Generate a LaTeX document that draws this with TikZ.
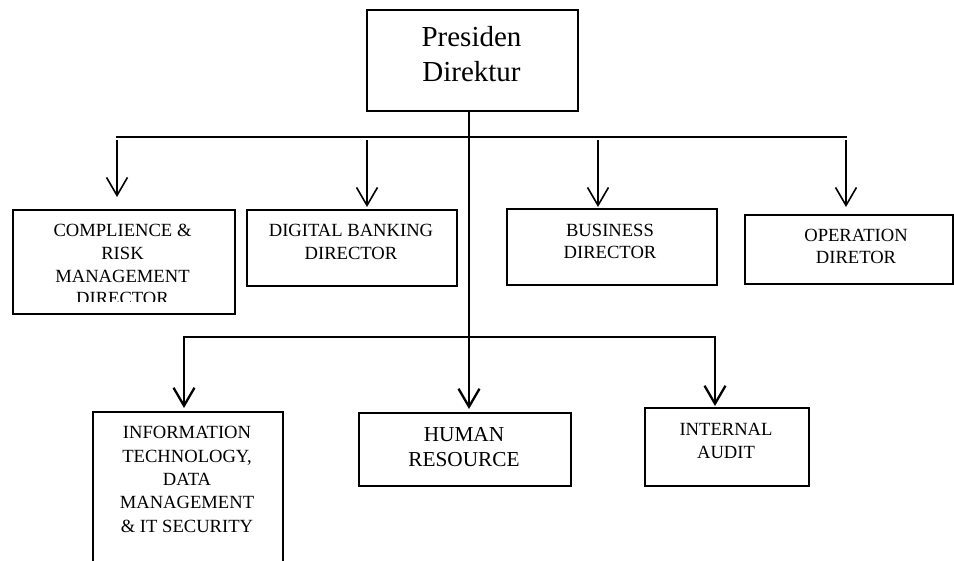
\documentclass[tikz,border=0pt]{standalone}
\usepackage{fontspec}
\setmainfont{Liberation Serif}
\usetikzlibrary{arrows.meta}
\begin{document}
\begin{tikzpicture}[x=1pt,y=-1pt,
  box/.style={draw, line width=2pt, anchor=north west, inner sep=0pt},
  lbl/.style={align=center, inner sep=0pt, anchor=base, font=\fontsize{18.6}{23}\selectfont},
  bus/.style={line width=2.5pt, line cap=rect},
  arrT/.style={line width=1.6pt, -{Straight Barb[length=18pt,width=21pt]}},
  arrB/.style={line width=2.3pt, -{Straight Barb[length=18pt,width=21pt]}}]
\useasboundingbox (0,0) rectangle (954,561);
\clip (0,0) rectangle (954,561);
% boxes
\node[box, minimum width=211pt, minimum height=101pt] (pres) at (366,9) {};
\node[box, minimum width=222pt, minimum height=104pt] (comp) at (12,209) {};
\node[box, minimum width=210pt, minimum height=76pt] (digi) at (246,209) {};
\node[box, minimum width=210pt, minimum height=76pt] (busi) at (506,208) {};
\node[box, minimum width=208pt, minimum height=69pt] (oper) at (744,214) {};
\node[box, minimum width=190pt, minimum height=200pt] (itbox) at (92,411) {};
\node[box, minimum width=212pt, minimum height=73pt] (hr) at (358,412) {};
\node[box, minimum width=164pt, minimum height=78pt] (ia) at (644,407) {};
% labels (anchor = baseline of last line)
\node[lbl, font=\fontsize{29}{35}\selectfont] (presT) at (471.5,82) {Presiden\\Direktur};
\begin{scope}
  \clip (12,209) rectangle (234,302);
  \node[lbl, font=\fontsize{18.6}{22.7}\selectfont] (compT) at (122.5,305) {COMPLIENCE \&\\RISK\\MANAGEMENT\\DIRECTOR};
\end{scope}
\node[lbl] (digiT) at (351,260) {DIGITAL BANKING\\DIRECTOR};
\node[lbl, font=\fontsize{18.6}{21.5}\selectfont] (busiT) at (610,258.5) {BUSINESS\\DIRECTOR};
\node[lbl, font=\fontsize{18.6}{22}\selectfont] (operT) at (856,264) {OPERATION\\DIRETOR};
\node[lbl, font=\fontsize{18.6}{23.3}\selectfont] (itT) at (187,532) {INFORMATION\\TECHNOLOGY,\\DATA\\MANAGEMENT\\\& IT SECURITY};
\node[lbl, font=\fontsize{21.3}{25}\selectfont] (hrT) at (464,467) {HUMAN\\RESOURCE};
\node[lbl] (iaT) at (726,458) {INTERNAL\\AUDIT};
% connectors
\coordinate (j1) at (469,137);
\coordinate (j2) at (469,337);
\coordinate (tl) at (117,137);
\coordinate (tr) at (846,137);
\coordinate (bl) at (184,337);
\coordinate (br) at (715,337);
\coordinate (a1) at (117,140);
\coordinate (a2) at (367,140);
\coordinate (a3) at (598,140);
\coordinate (a4) at (846,140);
\draw[line width=2.5pt] (pres.south -| j1) -- (j2);
\draw[bus] (tl) -- (tr);
\draw[bus] (bl) -- (br);
\draw[arrT, shorten >=12pt] (a1) -- (comp.north -| a1);
\draw[arrT, shorten >=2pt] (a2) -- (digi.north -| a2);
\draw[arrT, shorten >=1pt] (a3) -- (busi.north -| a3);
\draw[arrT, shorten >=7pt] (a4) -- (oper.north -| a4);
\draw[arrB, shorten >=3pt] (bl) -- (itbox.north -| bl);
\draw[arrB, shorten >=3pt] (j2) -- (hr.north -| j2);
\draw[arrB, shorten >=1pt] (br) -- (ia.north -| br);
\end{tikzpicture}
\end{document}
